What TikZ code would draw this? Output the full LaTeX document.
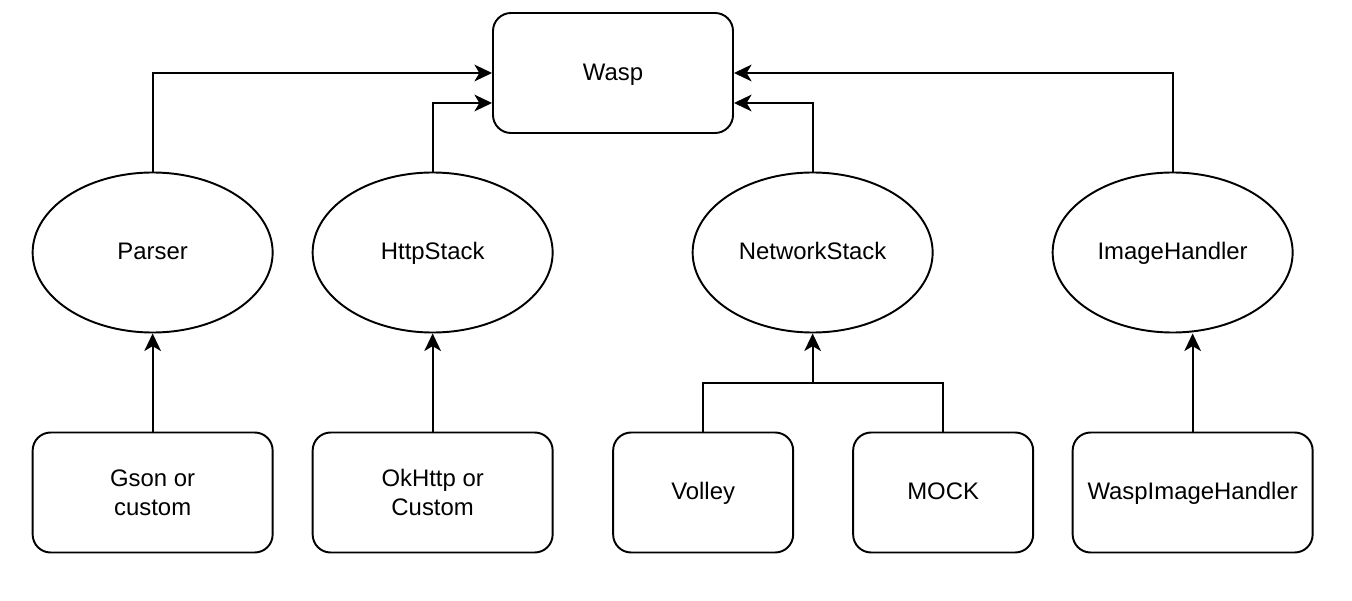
\documentclass[tikz,border=0pt]{standalone}
\usepackage{fontspec}
\setmainfont{Liberation Sans}
\usepackage{tikz}
\usetikzlibrary{arrows.meta,positioning,shapes.geometric}

\begin{document}
\begin{tikzpicture}[->,>={Stealth[length=10pt,width=9.5pt,inset=2.8pt]},
                    line width=1.1pt,node distance=4.8cm,
                    font=\fontsize{13.6}{16.4}\selectfont]
  \tikzstyle{every node}=[align=center,inner sep=0pt,
                          text height=1.05em,text depth=0.22em]
  \tikzstyle{box}=[draw,rectangle,rounded corners=0.36cm,
                   minimum width=4.8cm,minimum height=2.4cm]
  \tikzstyle{twoline}=[text height=,text depth=]
  \tikzstyle{smallbox}=[box,minimum width=3.6cm]
  \tikzstyle{iface}=[draw,ellipse,minimum width=4.8cm,minimum height=3.2cm]

  \useasboundingbox (0,0) rectangle (27.04,12);

  \node[box] (wasp) at (12.26,10.54) {Wasp};

  \node[iface] (parser) at (3.053,6.95) {Parser};
  \node[iface] (httpstack) at (8.653,6.95) {HttpStack};
  \node[iface] (networkstack) at (16.253,6.95) {NetworkStack};
  \node[iface] (imagehandler) at (23.453,6.95) {ImageHandler};

  \node[box,twoline] (gson) [below of = parser] {Gson or\\custom};
  \node[box,twoline] (okhttp) [below of = httpstack] {OkHttp or\\Custom};
  \node[smallbox] (volley) [below of = networkstack, xshift=-2.19cm] {Volley};
  \node[smallbox] (mock) [below of = networkstack, xshift=2.61cm] {MOCK};
  \node[box] (waspimage) [below of = imagehandler, xshift=0.4cm]
    {WaspImageHandler};

  \coordinate (join) at (16.253,4.34);

  \draw (parser) |- (wasp.west);
  \draw (httpstack) |- ([yshift=-0.6cm]wasp.west);
  \draw (networkstack) |- ([yshift=-0.6cm]wasp.east);
  \draw (imagehandler) |- (wasp.east);

  \draw (gson) -- (parser);
  \draw (okhttp) -- (httpstack);
  \draw[-] (volley) |- (join);
  \draw[-] (mock) |- (join);
  \draw (join) -- (networkstack);
  \draw (waspimage.north) -- (waspimage.north |- imagehandler.south);
\end{tikzpicture}
\end{document}
